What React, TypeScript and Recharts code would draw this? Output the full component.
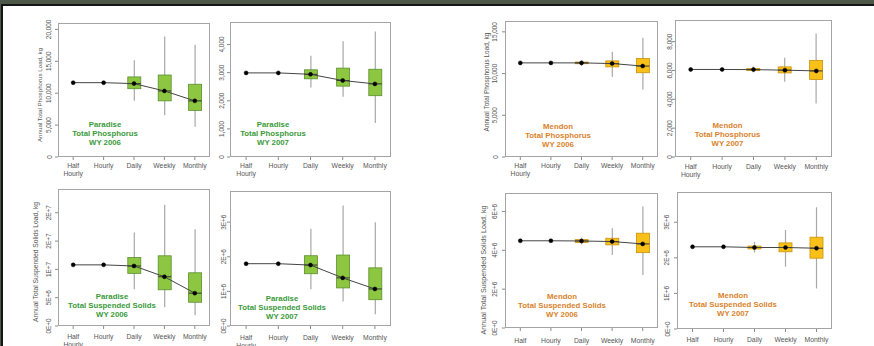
import { Bar, ComposedChart, Line, XAxis, YAxis } from "recharts";

const categories = ["Half\nHourly", "Hourly", "Daily", "Weekly", "Monthly"];

// Paradise, total phosphorus, WY 2006 (kg)
const ptp06Median = [11650, 11650, 11500, 10350, 8800];
const ptp06Q1 = [null, null, 10700, 8800, 7300];
const ptp06Q3 = [null, null, 12550, 12850, 11400];
const ptp06Low = [null, null, 8800, 6550, 4750];
const ptp06High = [null, null, 15150, 18900, 17600];

// Paradise, total phosphorus, WY 2007
const ptp07Median = [2990, 2990, 2940, 2720, 2600];
const ptp07Q1 = [null, null, 2780, 2520, 2180];
const ptp07Q3 = [null, null, 3100, 3160, 3120];
const ptp07Low = [null, null, 2470, 2140, 1210];
const ptp07High = [null, null, 3600, 4120, 4460];

// Mendon, total phosphorus, WY 2006
const mtp06Median = [11280, 11280, 11280, 11200, 10900];
const mtp06Q1 = [null, null, 11180, 10800, 10100];
const mtp06Q3 = [null, null, 11380, 11520, 11800];
const mtp06Low = [null, null, 10950, 9600, 8100];
const mtp06High = [null, null, 11600, 12600, 14300];

// Mendon, total phosphorus, WY 2007
const mtp07Median = [6070, 6070, 6060, 6020, 5970];
const mtp07Q1 = [null, null, 5990, 5830, 5370];
const mtp07Q3 = [null, null, 6140, 6250, 6690];
const mtp07Low = [null, null, 5880, 5210, 3710];
const mtp07High = [null, null, 6280, 6880, 8570];

// Paradise, total suspended solids, WY 2006
const ptss06Median = [10.8e6, 10.8e6, 10.6e6, 8.7e6, 5.8e6];
const ptss06Q1 = [null, null, 9.3e6, 6.4e6, 4.2e6];
const ptss06Q3 = [null, null, 12.1e6, 12.4e6, 9.4e6];
const ptss06Low = [null, null, 6.5e6, 3.3e6, 1.9e6];
const ptss06High = [null, null, 16.5e6, 21.4e6, 17.1e6];

// Paradise, total suspended solids, WY 2007
const ptss07Median = [1.8e6, 1.8e6, 1.76e6, 1.39e6, 1.07e6];
const ptss07Q1 = [null, null, 1.51e6, 1.1e6, 0.76e6];
const ptss07Q3 = [null, null, 2.03e6, 2.05e6, 1.68e6];
const ptss07Low = [null, null, 1.06e6, 0.71e6, 0.34e6];
const ptss07High = [null, null, 2.81e6, 3.48e6, 3.0e6];

// Mendon, total suspended solids, WY 2006
const mtss06Median = [4.49e6, 4.49e6, 4.48e6, 4.45e6, 4.33e6];
const mtss06Q1 = [null, null, 4.4e6, 4.28e6, 3.88e6];
const mtss06Q3 = [null, null, 4.55e6, 4.62e6, 4.88e6];
const mtss06Low = [null, null, 4.3e6, 3.76e6, 2.73e6];
const mtss06High = [null, null, 4.65e6, 5.14e6, 6.25e6];

// Mendon, total suspended solids, WY 2007
const mtss07Median = [2.31e6, 2.31e6, 2.29e6, 2.29e6, 2.27e6];
const mtss07Q1 = [null, null, 2.25e6, 2.17e6, 1.99e6];
const mtss07Q3 = [null, null, 2.33e6, 2.42e6, 2.58e6];
const mtss07Low = [null, null, 2.15e6, 1.75e6, 1.14e6];
const mtss07High = [null, null, 2.45e6, 2.78e6, 3.42e6];

const tpTicks06 = [0, 5000, 10000, 15000, 20000];
const tpTickLabels06 = ["0", "5,000", "10,000", "15,000", "20,000"];
const tpTicks07 = [0, 1000, 2000, 3000, 4000];
const tpTickLabels07 = ["0", "1,000", "2,000", "3,000", "4,000"];
const mtpTicks06 = [0, 5000, 10000, 15000];
const mtpTickLabels06 = ["0", "5,000", "10,000", "15,000"];
const mtpTicks07 = [0, 2000, 4000, 6000, 8000];
const mtpTickLabels07 = ["0", "2,000", "4,000", "6,000", "8,000"];
const tssTicks06 = [0, 5e6, 10e6, 15e6, 20e6];
const tssTickLabels06 = ["0E+0", "5E+6", "1E+7", "2E+7", "2E+7"];
const tssTicks07 = [0, 1e6, 2e6, 3e6];
const tssTickLabels07 = ["0E+0", "1E+6", "2E+6", "3E+6"];
const mtssTicks06 = [0, 2e6, 4e6, 6e6];
const mtssTickLabels06 = ["0E+0", "2E+6", "4E+6", "6E+6"];

const FONT = '"Liberation Sans", Arial, sans-serif';

const themes = {
  green: { fill: "#8dc641", stroke: "#5b8f2e", text: "#3a9a3a" },
  gold: { fill: "#f9c01a", stroke: "#c9930a", text: "#d9822b" },
};

function rows(med: any[], q1: any[], q3: any[], lo: any[], hi: any[]) {
  return categories.map((cat, i) => ({ cat, med: med[i], q1: q1[i], q3: q3[i], lo: lo[i], hi: hi[i] }));
}

const panels = [
  {
    data: rows(ptp06Median, ptp06Q1, ptp06Q3, ptp06Low, ptp06High),
    max: 21000, ticks: tpTicks06, labels: tpTickLabels06, theme: "green",
    rect: { x: 58, y: 23, w: 152, h: 134 }, yGap: 9, xOff: 8.7,
    title: ["Paradise", "Total Phosphorus", "WY 2006"], tx: 105, ty: 124,
    axisTitle: "Annual Total Phosphorus Load, kg", ax: 39.5, ay: 95, afs: 6.2,
  },
  {
    data: rows(ptp07Median, ptp07Q1, ptp07Q3, ptp07Low, ptp07High),
    max: 4800, ticks: tpTicks07, labels: tpTickLabels07, theme: "green",
    rect: { x: 230, y: 22, w: 161, h: 135 }, yGap: 9, xOff: 8.7,
    title: ["Paradise", "Total Phosphorus", "WY 2007"], tx: 273, ty: 124,
  },
  {
    data: rows(mtp06Median, mtp06Q1, mtp06Q3, mtp06Low, mtp06High),
    max: 16300, ticks: mtpTicks06, labels: mtpTickLabels06, theme: "gold",
    rect: { x: 505, y: 21, w: 153, h: 136 }, yGap: 10, xOff: 8.7,
    title: ["Mendon", "Total Phosphorus", "WY 2006"], tx: 558, ty: 126,
    axisTitle: "Annual Total Phosphorus Load, kg", ax: 486.5, ay: 82, afs: 6.5,
  },
  {
    data: rows(mtp07Median, mtp07Q1, mtp07Q3, mtp07Low, mtp07High),
    max: 9500, ticks: mtpTicks07, labels: mtpTickLabels07, theme: "gold",
    rect: { x: 675, y: 20, w: 157, h: 137 }, yGap: 5.5, xOff: 9.7,
    title: ["Mendon", "Total Phosphorus", "WY 2007"], tx: 727.5, ty: 124.7,
  },
  {
    data: rows(ptss06Median, ptss06Q1, ptss06Q3, ptss06Low, ptss06High),
    max: 24.2e6, ticks: tssTicks06, labels: tssTickLabels06, theme: "green",
    rect: { x: 58, y: 189, w: 152, h: 137 }, yGap: 9.7, xOff: 10.5,
    title: ["Paradise", "Total Suspended Solids", "WY 2006"], tx: 112, ty: 295.7,
    axisTitle: "Annual Total Suspended Solids Load, kg", ax: 35, ay: 262, afs: 6.7,
  },
  {
    data: rows(ptss07Median, ptss07Q1, ptss07Q3, ptss07Low, ptss07High),
    max: 3.9e6, ticks: tssTicks07, labels: tssTickLabels07, theme: "green",
    rect: { x: 230, y: 191, w: 161, h: 135 }, yGap: 6.7, xOff: 11.6,
    title: ["Paradise", "Total Suspended Solids", "WY 2007"], tx: 282, ty: 297.7,
  },
  {
    data: rows(mtss06Median, mtss06Q1, mtss06Q3, mtss06Low, mtss06High),
    max: 6.95e6, ticks: mtssTicks06, labels: mtssTickLabels06, theme: "gold",
    rect: { x: 505, y: 193, w: 153, h: 135 }, yGap: 10.7, xOff: 12.7,
    title: ["Mendon", "Total Suspended Solids", "WY 2006"], tx: 562, ty: 296,
    axisTitle: "Annual Total Suspended Solids Load, kg", ax: 483, ay: 270, afs: 7.2,
  },
  {
    data: rows(mtss07Median, mtss07Q1, mtss07Q3, mtss07Low, mtss07High),
    max: 3.85e6, ticks: tssTicks07, labels: tssTickLabels07, theme: "gold",
    rect: { x: 677, y: 192, w: 155, h: 137 }, yGap: 10, xOff: 11,
    title: ["Mendon", "Total Suspended Solids", "WY 2007"], tx: 733, ty: 295,
  },
];

function BoxShape(props: any) {
  const { x, y, width, height, payload, theme } = props;
  if (!payload || payload.lo == null) return null;
  const top = Math.min(y, y + height);
  const bot = Math.max(y, y + height);
  const span = payload.hi - payload.lo || 1;
  const py = (v: number) => bot - ((v - payload.lo) / span) * (bot - top);
  const cx = x + width / 2;
  const bTop = py(payload.q3);
  const bBot = py(payload.q1);
  return (
    <g>
      <line x1={cx} x2={cx} y1={top} y2={bot} stroke="#a8a8a8" strokeWidth={1.2} />
      <rect x={x} y={bTop} width={width} height={Math.max(bBot - bTop, 1)} fill={theme.fill} stroke={theme.stroke} strokeWidth={0.8} />
      <line x1={x} x2={x + width} y1={py(payload.med)} y2={py(payload.med)} stroke="#333" strokeWidth={1} />
    </g>
  );
}

const L = 30;
const T = 4;
const R = 4;
const B = 24;

function Panel({ p }: { p: any }) {
  const theme = (themes as any)[p.theme];
  const { x, y, w, h } = p.rect;
  const yTick = (props: any) => {
    const i = p.ticks.indexOf(props.payload.value);
    return (
      <text
        x={props.x}
        y={props.y}
        transform={`rotate(-90 ${props.x} ${props.y})`}
        textAnchor="middle"
        dominantBaseline="central"
        fontSize={6.4}
        fill="#555"
        fontFamily={FONT}
      >
        {p.labels[i]}
      </text>
    );
  };
  const xTick = (props: any) => {
    const lines = String(props.payload.value).split("\n");
    const base = props.y + (p.xOff - 5) + 2.4;
    return (
      <text x={props.x} y={base} textAnchor="middle" fontSize={6.8} fill="#555" fontFamily={FONT}>
        {lines.map((s, k) => (
          <tspan key={k} x={props.x} dy={k === 0 ? 0 : 8.3}>
            {s}
          </tspan>
        ))}
      </text>
    );
  };
  return (
    <div style={{ position: "absolute", left: x - L, top: y - T }}>
      <ComposedChart width={w + L + R} height={h + T + B} data={p.data} margin={{ top: T, right: R, left: 0, bottom: 0 }}>
        <XAxis
          dataKey="cat"
          interval={0}
          height={B}
          tickSize={3}
          tickMargin={2}
          axisLine={false}
          tickLine={{ stroke: "#8a8a8a" }}
          tick={xTick}
        />
        <YAxis
          type="number"
          domain={[0, p.max]}
          ticks={p.ticks}
          interval={0}
          width={L}
          allowDataOverflow
          tickSize={3}
          tickMargin={p.yGap - 3}
          axisLine={false}
          tickLine={{ stroke: "#8a8a8a" }}
          tick={yTick}
        />
        <Bar
          dataKey={(d: any) => (d.lo == null ? null : [d.lo, d.hi])}
          barSize={13}
          isAnimationActive={false}
          shape={(sp: any) => <BoxShape {...sp} theme={theme} />}
        />
        <Line
          dataKey="med"
          stroke="#444"
          strokeWidth={1}
          dot={{ r: 2, fill: "#000", stroke: "#000", strokeWidth: 0.5 }}
          isAnimationActive={false}
        />
      </ComposedChart>
    </div>
  );
}

export default function App() {
  return (
    <div style={{ position: "fixed", left: 0, top: 0, width: 874, height: 346, background: "#fff", overflow: "hidden", fontFamily: FONT }}>
      {panels.map((p, i) => (
        <Panel key={i} p={p} />
      ))}
      <svg width={874} height={346} style={{ position: "absolute", left: 0, top: 0, pointerEvents: "none" }}>
        {panels.map((p, i) => {
          const theme = (themes as any)[p.theme];
          return (
            <g key={i}>
              <rect x={p.rect.x + 0.5} y={p.rect.y + 0.5} width={p.rect.w - 1} height={p.rect.h - 1} fill="none" stroke="#a4a4a4" strokeWidth={1} />
              <text textAnchor="middle" fontSize={7.8} fontWeight="bold" fill={theme.text} fontFamily={FONT}>
                {p.title.map((s: string, k: number) => (
                  <tspan key={k} x={p.tx} y={p.ty + 2.8 + k * 9.2}>
                    {s}
                  </tspan>
                ))}
              </text>
              {p.axisTitle ? (
                <text
                  transform={`translate(${p.ax} ${p.ay}) rotate(-90)`}
                  textAnchor="middle"
                  dominantBaseline="central"
                  fontSize={p.afs}
                  fill="#555"
                  fontFamily={FONT}
                >
                  {p.axisTitle}
                </text>
              ) : null}
            </g>
          );
        })}
      </svg>
      <div style={{ position: "absolute", left: 0, top: 0, width: 874, height: 4, background: "#4e5849" }} />
      <div style={{ position: "absolute", left: 0, top: 4, width: 874, height: 2, background: "#151515" }} />
      <div style={{ position: "absolute", left: 0, top: 0, width: 1, height: 346, background: "#4e5849" }} />
      <div style={{ position: "absolute", left: 1, top: 4, width: 2, height: 342, background: "#151515" }} />
    </div>
  );
}
